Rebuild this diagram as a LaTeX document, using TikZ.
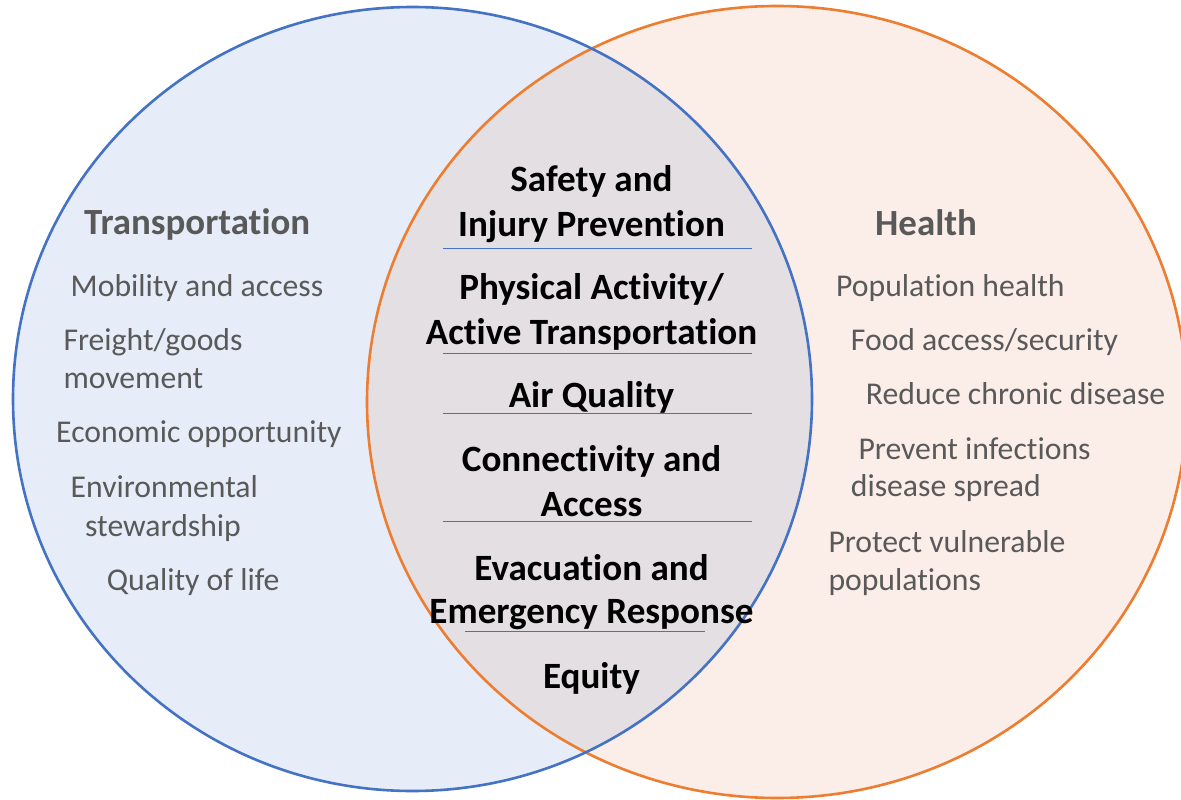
\documentclass[tikz,border=0pt]{standalone}
\usepackage{fontspec}
\setmainfont[RawFeature={-liga}]{Carlito}
\definecolor{tblue}{HTML}{4472C4}
\definecolor{torange}{HTML}{ED7D31}
\definecolor{bluefill}{HTML}{E6EDF8}
\definecolor{orangefill}{HTML}{FBEDE8}
\definecolor{overlapfill}{HTML}{E4DFE2}
\definecolor{txtgrey}{HTML}{595959}
\tikzset{
  item/.style={anchor=base west, inner sep=0pt, font=\fontsize{31.7}{38}\selectfont, text=txtgrey},
  headtxt/.style={anchor=base west, inner sep=0pt, font=\fontsize{36.9}{44}\selectfont\bfseries, text=txtgrey},
  midtxt/.style={anchor=base, inner sep=0pt, font=\fontsize{37.1}{44}\selectfont\bfseries, text=black},
  sepline/.style={draw=tblue, line width=1.3pt},
  ringline/.style={line width=2.6pt}
}
\begin{document}
\begin{tikzpicture}[x=1pt,y=-1pt]
\useasboundingbox (0,0) rectangle (1181,800);
\fill[white] (0,0) rectangle (1181,800);
% fills
\fill[bluefill] (412.5,399) ellipse [x radius=399.5pt, y radius=392pt];
\fill[orangefill] (777,402) ellipse [x radius=410pt, y radius=396pt];
\begin{scope}
  \clip (412.5,399) ellipse [x radius=399.5pt, y radius=392pt];
  \fill[overlapfill] (777,402) ellipse [x radius=410pt, y radius=396pt];
\end{scope}
% outlines
\draw[ringline, torange] (777,402) ellipse [x radius=410pt, y radius=396pt];
\draw[ringline, tblue] (412.5,399) ellipse [x radius=399.5pt, y radius=392pt];

% left side
\node[headtxt] (thead) at (84,234.3) {Transportation};
\node[item] (t1) at (70.5,296.7) {Mobility and access};
\node[item] (t2a) at (63.3,350.7) {Freight/goods};
\node[item] (t2b) at (63.3,388.3) {movement};
\node[item] (t3) at (56,442.7) {Economic opportunity};
\node[item] (t4a) at (70.5,497.7) {Environmental};
\node[item] (t4b) at (85,536) {stewardship};
\node[item] (t5) at (106.7,590) {Quality of life};

% right side
\node[headtxt] (hhead) at (875,235) {Health};
\node[item] (h1) at (836,296.7) {Population health};
\node[item] (h2) at (850.7,350) {Food access/security};
\node[item] (h3) at (865.7,404) {Reduce chronic disease};
\node[item] (h4a) at (858.3,459.3) {Prevent infections};
\node[item] (h4b) at (850.7,496.7) {disease spread};
\node[item] (h5a) at (828.3,552.3) {Protect vulnerable};
\node[item] (h5b) at (828.3,590) {populations};

% centre
\node[midtxt] (c1a) at (591.5,191) {Safety and};
\node[midtxt] (c1b) at (591.5,236.4) {Injury Prevention};
\node[midtxt] (c2a) at (591.5,299.5) {Physical Activity/};
\node[midtxt] (c2b) at (591.5,344.2) {Active Transportation};
\node[midtxt] (c3) at (591.5,407.9) {Air Quality};
\node[midtxt] (c4a) at (591.5,471.6) {Connectivity and};
\node[midtxt] (c4b) at (591.5,516.4) {Access};
\node[midtxt] (c5a) at (591.5,580.1) {Evacuation and};
\node[midtxt] (c5b) at (591.5,623.2) {Emergency Response};
\node[midtxt] (c6) at (591.5,688.6) {Equity};

% separators
\coordinate (s1l) at (443,248.2); \coordinate (s1r) at (752,248.2);
\coordinate (s2l) at (443,353.2); \coordinate (s2r) at (752,353.2);
\coordinate (s3l) at (443,413.8); \coordinate (s3r) at (752,413.8);
\coordinate (s4l) at (443,521.6); \coordinate (s4r) at (752,521.6);
\coordinate (s5l) at (465,631.8); \coordinate (s5r) at (705,631.8);
\draw[sepline] (s1l) -- (s1r);
\draw[sepline] (s2l) -- (s2r);
\draw[sepline] (s3l) -- (s3r);
\draw[sepline] (s4l) -- (s4r);
\draw[sepline] (s5l) -- (s5r);
\end{tikzpicture}
\end{document}
